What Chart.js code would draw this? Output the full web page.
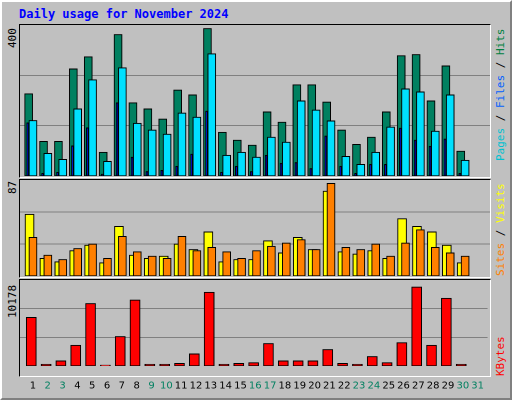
<!DOCTYPE html>
<html><head><meta charset="utf-8">
<script src="https://cdn.jsdelivr.net/npm/chart.js@4"></script>
<style>
body{margin:0;background:#fff}
#frame{position:absolute;left:0;top:0;width:508px;height:396px;background:#c0c0c0;border:2px solid;border-color:#fff #808080 #808080 #fff;box-shadow:1px 1px 0 #000}
.ttl{position:absolute;left:19px;top:7px;font:bold 12px "DejaVu Sans Mono",monospace;color:#0000ff}
.panel{position:absolute;left:19px;width:470px;border:1px solid;border-color:#000 #fff #fff #000}
.rl{position:absolute;font:11px "DejaVu Sans Mono",monospace;transform-origin:left top;white-space:nowrap}
canvas{position:absolute}
</style></head><body>
<div id="frame"></div>
<div class="ttl">Daily usage for November 2024</div>
<div class="panel" style="top:24px;height:152px"></div>
<div class="panel" style="top:179px;height:97px"></div>
<div class="panel" style="top:279px;height:96px"></div>
<div class="rl" style="left:6px;top:48px;transform:rotate(-90deg)">400</div>
<div class="rl" style="left:6px;top:194px;transform:rotate(-90deg)">87</div>
<div class="rl" style="left:6px;top:318px;transform:rotate(-90deg)">10178</div>
<div class="rl" style="left:494px;top:161px;transform:rotate(-90deg)"><span style="color:#00c0d0">Pages</span> / <span style="color:#0060ff">Files</span> / <span style="color:#008040">Hits</span></div>
<div class="rl" style="left:494px;top:276px;transform:rotate(-90deg)"><span style="color:#ff8000">Sites</span> / <span style="color:#ffff00">Visits</span></div>
<div class="rl" style="left:494px;top:376px;transform:rotate(-90deg)"><span style="color:#ff0000">KBytes</span></div>
<canvas id="c1" style="left:20px;top:25px;width:470px;height:151px"></canvas>
<canvas id="c2" style="left:20px;top:180px;width:470px;height:96px"></canvas>
<canvas id="c3" style="left:20px;top:280px;width:470px;height:118px"></canvas>
<script>
const days=[1,2,3,4,5,6,7,8,9,10,11,12,13,14,15,16,17,18,19,20,21,22,23,24,25,26,27,28,29,30,31];
const weekend=[2,3,9,10,16,17,23,24,30,31];
const hits=[218,92,92,284,316,63,375,194,178,151,228,215,391,116,95,82,170,143,242,242,196,122,84,103,170,319,322,199,292,66,0];
const files=[147,60,44,178,255,39,287,140,122,111,167,156,324,55,63,50,103,90,199,175,146,52,31,63,130,231,223,119,215,42,0];
const pages=[141,7,10,80,128,5,194,50,12,15,26,58,172,10,26,12,55,34,36,20,106,26,7,31,31,127,95,79,98,7,0];
const sites=[56,16,13,23,28,12,45,19,16,18,29,24,40,13,15,15,32,21,35,24,77,22,20,23,16,52,45,40,28,12,0];
const visits=[35,19,15,25,29,16,36,22,18,16,36,23,26,22,16,23,27,30,33,24,84,26,24,29,18,30,42,26,21,18,0];
const kbytes=[6263,224,671,2684,8053,112,3803,8500,224,224,336,1566,9507,224,336,447,2908,671,671,671,2125,336,224,1230,447,3020,10178,2684,8724,224,0];
const yMax1=400,yMax2=87,yMax3=10178*297/273;

function ds(vals,off,color,w,ord){return{data:vals.map((v,i)=>({x:days[i]+off,y:v})),order:ord,backgroundColor:color,borderColor:'#000',borderWidth:1,barThickness:w,grouped:false,borderSkipped:false};}
function mk(id,sets,max,showX){
  new Chart(document.getElementById(id),{type:'bar',data:{datasets:sets},
  options:{responsive:false,animation:false,devicePixelRatio:2,layout:{padding:0},
   plugins:{legend:{display:false},tooltip:{enabled:false}},
   scales:{
    x:{type:'linear',min:0.13,max:31.67,offset:false,grid:{display:false},border:{display:false},
       display:showX,ticks:{display:showX,stepSize:1,autoSkip:false,maxRotation:0,padding:6,
       font:{family:'DejaVu Sans',size:10},color:c=>weekend.includes(c.tick.value)?'#008060':'#000',
       callback:v=>days.includes(v)?String(v):''},afterBuildTicks:a=>{a.ticks=days.map(d=>({value:d}));}},
    y:{min:0,max:max,ticks:{display:false,stepSize:max/3},grid:{color:'#808080',drawTicks:false,lineWidth:c=>(c.tick.value>0&&c.tick.value<max-1)?1:0},
       border:{display:false},afterFit:a=>{a.width=0;}}
   }}});
}
const c1=document.getElementById('c1');c1.width=470;c1.height=151;
const c2=document.getElementById('c2');c2.width=470;c2.height=96;
const c3=document.getElementById('c3');c3.width=470;c3.height=118;
mk('c1',[ds(hits,-0.29,'#008060',8,3),ds(files,0.0,'#00e0ff',8,2),ds(pages,-0.35,'#0000ff',2,1)],yMax1,false);
mk('c2',[ds(sites,-0.23,'#ffff00',9,2),ds(visits,0.0,'#ff8000',8,1)],yMax2,false);
mk('c3',[ds(kbytes,-0.11,'#ff0000',10,1)],yMax3,true);
</script></body></html>
